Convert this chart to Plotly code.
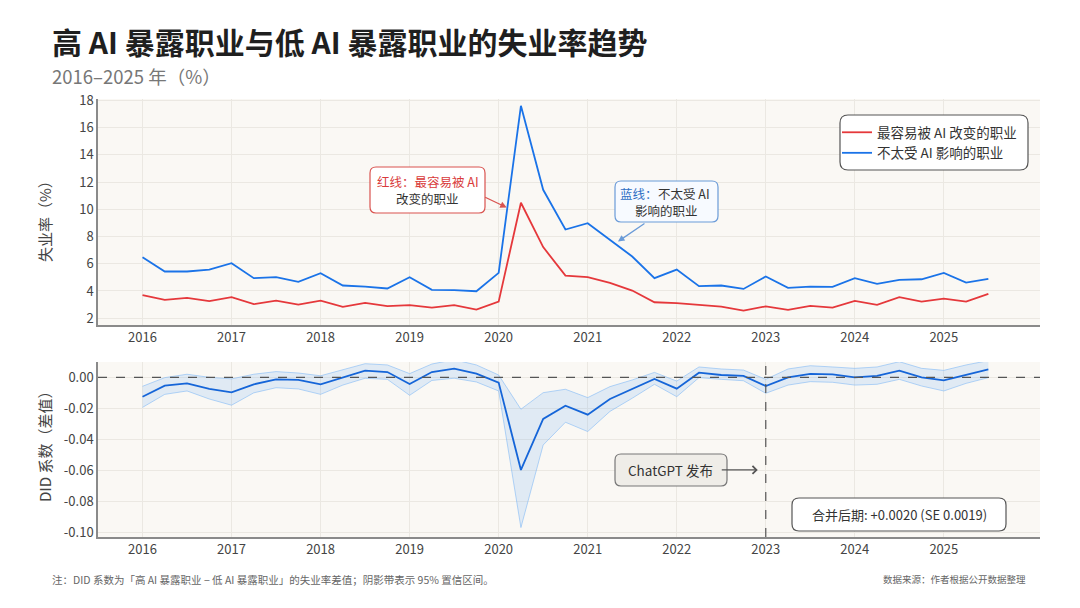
import plotly.graph_objects as go

# ---------------- data ----------------
quarters = [2016 + 0.25 * i for i in range(39)]  # 2016Q1 .. 2025Q3

high_ai = [3.69, 3.35, 3.49, 3.25, 3.54, 3.03, 3.29, 3.00, 3.29, 2.83, 3.12, 2.88, 2.96,
           2.78, 2.96, 2.63, 3.22, 10.48, 7.22, 5.13, 5.01, 4.59, 4.03, 3.17, 3.10, 2.98,
           2.85, 2.56, 2.87, 2.61, 2.90, 2.78, 3.27, 2.98, 3.54, 3.22, 3.44, 3.22, 3.79]

low_ai = [6.48, 5.43, 5.43, 5.57, 6.04, 4.94, 5.01, 4.67, 5.30, 4.40, 4.32, 4.18, 5.01,
          4.08, 4.06, 3.98, 5.33, 17.60, 11.43, 8.51, 8.98, 7.76, 6.53, 4.94, 5.57, 4.35,
          4.40, 4.15, 5.06, 4.23, 4.32, 4.30, 4.94, 4.52, 4.81, 4.86, 5.33, 4.62, 4.89]

did = [-0.0125, -0.0054, -0.0039, -0.0075, -0.0097, -0.0045, -0.0013, -0.0017, -0.0045,
       -0.0003, 0.0043, 0.0034, -0.0043, 0.0034, 0.0056, 0.0024, -0.0034, -0.0598,
       -0.0269, -0.0183, -0.0241, -0.0140, -0.0075, -0.0010, -0.0073, 0.0030, 0.0015,
       0.0009, -0.0056, 0.0000, 0.0022, 0.0019, 0.0000, 0.0009, 0.0043, 0.0000,
       -0.0019, 0.0019, 0.0052]

did_hi = [-0.0058, -0.0002, 0.0020, 0.0000, -0.0010, 0.0020, 0.0037, 0.0028, 0.0010,
          0.0050, 0.0088, 0.0080, 0.0024, 0.0086, 0.0114, 0.0080, 0.0015, -0.0206,
          -0.0099, -0.0077, -0.0131, -0.0060, -0.0017, 0.0032, -0.0024, 0.0067, 0.0054,
          0.0047, -0.0013, 0.0054, 0.0075, 0.0067, 0.0058, 0.0067, 0.0101, 0.0058,
          0.0045, 0.0080, 0.0108]

did_lo = [-0.0194, -0.0110, -0.0088, -0.0140, -0.0180, -0.0100, -0.0067, -0.0075, -0.0110,
          -0.0050, -0.0006, -0.0013, -0.0116, -0.0020, -0.0006, -0.0030, -0.0088, -0.0970,
          -0.0437, -0.0290, -0.0350, -0.0220, -0.0135, -0.0045, -0.0125, -0.0002, -0.0013,
          -0.0022, -0.0103, -0.0050, -0.0028, -0.0032, -0.0050, -0.0045, -0.0013, -0.0056,
          -0.0088, -0.0039, -0.0002]

year_ticks = [2016, 2017, 2018, 2019, 2020, 2021, 2022, 2023, 2024, 2025]
rate_ticks = [2, 4, 6, 8, 10, 12, 14, 16, 18]
did_ticks = [0.0, -0.02, -0.04, -0.06, -0.08, -0.10]
did_tick_labels = ["0.00", "-0.02", "-0.04", "-0.06", "-0.08", "-0.10"]

chatgpt_release = 2023.0
pooled_text = "合并后期: +0.0020 (SE 0.0019)"

# ---------------- layout helpers ----------------
# page body has an 8px margin; work in screenshot pixel coordinates
OFF = 8
W, H = 1080 - OFF, 608 - OFF
PL, PR, PT, PB = 98, 1040, 99, 537          # plot box in screenshot pixels
ML, MT = PL - OFF, PT - OFF
PW, PH = PR - PL, PB - PT
MR, MB = W - ML - PW, H - MT - PH
FONT = "Noto Sans CJK SC, Noto Sans, sans-serif"


def px2x(px):
    return (px - PL) / PW


def px2y(py):
    return (PB - py) / PH


def rrect(x0, y0, x1, y1, r):
    X0, X1 = px2x(x0), px2x(x1)
    Y0, Y1 = px2y(y0), px2y(y1)
    rx, ry = r / PW, r / PH
    return (f"M{X0+rx},{Y0} L{X1-rx},{Y0} Q{X1},{Y0} {X1},{Y0-ry} "
            f"L{X1},{Y1+ry} Q{X1},{Y1} {X1-rx},{Y1} L{X0+rx},{Y1} "
            f"Q{X0},{Y1} {X0},{Y1+ry} L{X0},{Y0-ry} Q{X0},{Y0} {X0+rx},{Y0} Z")


def label(text, cx, cy, size, color="#333", anchor="center", **kw):
    return dict(text=text, xref="paper", yref="paper", x=px2x(cx), y=px2y(cy),
                xanchor=anchor, yanchor="middle", showarrow=False,
                font=dict(family=FONT, size=size, color=color), **kw)


RED = "#e5383b"
BLUE = "#1a73e8"
GRID = "#ebe8e2"
AXC = "#8a8a8a"

fig = go.Figure()

fig.add_trace(go.Scatter(x=quarters, y=high_ai, mode="lines", name="最容易被 AI 改变的职业",
                         line=dict(color=RED, width=1.8), xaxis="x", yaxis="y"))
fig.add_trace(go.Scatter(x=quarters, y=low_ai, mode="lines", name="不太受 AI 影响的职业",
                         line=dict(color=BLUE, width=1.8), xaxis="x", yaxis="y"))

fig.add_trace(go.Scatter(x=quarters, y=did_lo, mode="lines", showlegend=False,
                         line=dict(color="rgba(120,180,245,0.55)", width=1),
                         xaxis="x2", yaxis="y2", hoverinfo="skip"))
fig.add_trace(go.Scatter(x=quarters, y=did_hi, mode="lines", showlegend=False, fill="tonexty",
                         fillcolor="rgba(120,180,245,0.2)",
                         line=dict(color="rgba(120,180,245,0.55)", width=1),
                         xaxis="x2", yaxis="y2", hoverinfo="skip"))
fig.add_trace(go.Scatter(x=quarters, y=did, mode="lines", showlegend=False,
                         line=dict(color="#1565d8", width=1.8), xaxis="x2", yaxis="y2"))

xr = [2015.5, 2026.08]
top_dom = [px2y(325), 1.0]
bot_dom = [0.0, px2y(362)]

axis_common = dict(showline=True, linecolor=AXC, linewidth=1.5, showgrid=True, gridcolor=GRID,
                   gridwidth=1, ticks="", zeroline=False,
                   tickfont=dict(family=FONT, size=13, color="#444"))

shapes = [
    dict(type="line", xref="x2 domain", yref="y2", x0=0, x1=1, y0=0, y1=0,
         line=dict(color="#555", width=1.3, dash="dash")),
    dict(type="line", xref="x2", yref="y2 domain", x0=chatgpt_release, x1=chatgpt_release, y0=0, y1=1,
         line=dict(color="#555", width=1.2, dash="dash")),
    dict(type="path", xref="paper", yref="paper", path=rrect(840, 115, 1028, 170, 8),
         fillcolor="white", line=dict(color="#555", width=1.2), layer="above"),
    dict(type="path", xref="paper", yref="paper", path=rrect(370, 167, 485, 213, 6),
         fillcolor="white", line=dict(color="#d9534f", width=1.2), layer="above"),
    dict(type="path", xref="paper", yref="paper", path=rrect(615, 181, 718, 222, 6),
         fillcolor="#f7faff", line=dict(color="#6a9bd8", width=1.2), layer="above"),
    dict(type="path", xref="paper", yref="paper", path=rrect(615, 454, 727, 486, 6),
         fillcolor="#efede8", line=dict(color="#777", width=1.2), layer="above"),
    dict(type="path", xref="paper", yref="paper", path=rrect(792, 498, 1006, 531, 7),
         fillcolor="white", line=dict(color="#555", width=1.2), layer="above"),
]

annotations = [
    dict(text="<b>高 AI 暴露职业与低 AI 暴露职业的失业率趋势</b>", xref="paper", yref="paper",
         x=px2x(50), y=px2y(41), xanchor="left", yanchor="middle", showarrow=False,
         font=dict(family=FONT, size=30, color="#1f1f1f")),
    dict(text="2016–2025 年（%）", xref="paper", yref="paper",
         x=px2x(50), y=px2y(76), xanchor="left", yanchor="middle", showarrow=False,
         font=dict(family=FONT, size=18.5, color="#777")),
    label("失业率（%）", 44, 218, 15, "#444", textangle=-90),
    label("DID 系数（差值）", 44, 443, 15, "#444", textangle=-90),
    # red callout: arrow + two text lines
    dict(text=" ", xref="x", yref="y", x=2020.09, y=10.13, ax=-23, ay=-11,
         showarrow=True, arrowhead=2, arrowsize=1, arrowwidth=1.3, arrowcolor="#d9534f",
         font=dict(size=1)),
    label("红线：最容易被 AI", 427.5, 181, 12.5, "#d93b3b"),
    label("改变的职业", 427.5, 198.5, 12.5, "#333"),
    # blue callout
    dict(text=" ", xref="x", yref="y", x=2021.34, y=7.63, ax=28, ay=-19,
         showarrow=True, arrowhead=2, arrowsize=1, arrowwidth=1.3, arrowcolor="#6a9bd8",
         font=dict(size=1)),
    label("蓝线：", 660, 193.5, 12.5, "#2f6fc4", anchor="right"),
    label("不太受 AI", 656, 193.5, 12.5, "#333", anchor="left"),
    label("影响的职业", 666.5, 210.5, 12.5, "#333"),
    # ChatGPT
    dict(text="ChatGPT 发布", xref="x2", yref="y2", x=2022.91, y=-0.0598, ax=-87, ay=0,
         showarrow=True, arrowhead=4, arrowsize=1.2, arrowwidth=1.3, arrowcolor="#555",
         borderpad=8, font=dict(family=FONT, size=13.5, color="#333")),
    label(pooled_text, 899, 514.5, 13, "#333"),
    dict(text="注：DID 系数为「高 AI 暴露职业 − 低 AI 暴露职业」的失业率差值；阴影带表示 95% 置信区间。",
         xref="paper", yref="paper", x=px2x(50), y=px2y(579), xanchor="left", yanchor="middle",
         showarrow=False, font=dict(family=FONT, size=10.5, color="#666")),
    dict(text="数据来源：作者根据公开数据整理", xref="paper", yref="paper", x=px2x(1028), y=px2y(579),
         xanchor="right", yanchor="middle", showarrow=False,
         font=dict(family=FONT, size=9.5, color="#666")),
]

fig.update_layout(
    width=W, height=H,
    margin=dict(l=ML, r=MR, t=MT, b=MB),
    paper_bgcolor="white", plot_bgcolor="#faf8f4",
    font=dict(family=FONT, color="#333"),
    xaxis=dict(domain=[0, 1], range=xr, anchor="y", tickvals=year_ticks, **axis_common),
    yaxis=dict(domain=top_dom, range=[1.5, 18.1], anchor="x", tickvals=rate_ticks, **axis_common),
    xaxis2=dict(domain=[0, 1], range=xr, anchor="y2", tickvals=year_ticks, **axis_common),
    yaxis2=dict(domain=bot_dom, range=[-0.1031, 0.0099], anchor="x2", tickvals=did_ticks,
                ticktext=did_tick_labels, **axis_common),
    showlegend=True,
    legend=dict(x=px2x(837), y=px2y(117), xanchor="left", yanchor="top",
                bgcolor="rgba(0,0,0,0)", borderwidth=0, traceorder="normal",
                font=dict(family=FONT, size=13.5, color="#333"), itemwidth=30,
                tracegroupgap=2),
    shapes=shapes,
    annotations=annotations,
)

fig.write_html("out.html")
